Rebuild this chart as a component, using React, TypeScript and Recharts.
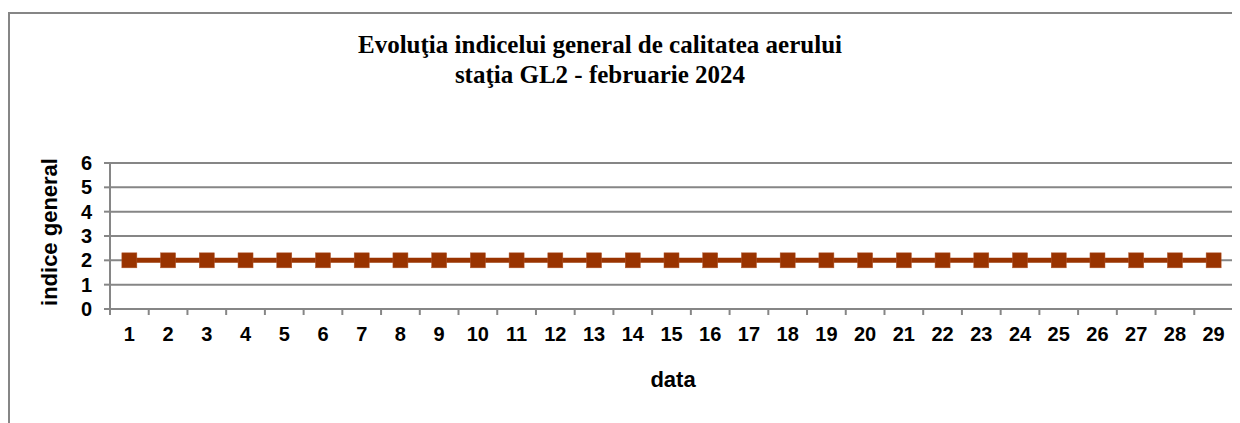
import React from "react";
import {
  LineChart,
  Line,
  XAxis,
  YAxis,
  CartesianGrid,
} from "recharts";

const days = [
  1, 2, 3, 4, 5, 6, 7, 8, 9, 10, 11, 12, 13, 14, 15, 16, 17, 18, 19, 20, 21,
  22, 23, 24, 25, 26, 27, 28, 29,
];
const indexValues = [
  2, 2, 2, 2, 2, 2, 2, 2, 2, 2, 2, 2, 2, 2, 2, 2, 2, 2, 2, 2, 2, 2, 2, 2, 2, 2,
  2, 2, 2,
];
const yTicks = [0, 1, 2, 3, 4, 5, 6];
const titleLines = [
  "Evoluţia indicelui general de calitatea aerului",
  "staţia GL2 - februarie 2024",
];
const xTitle = "data";
const yTitle = "indice general";

const data = days.map((d, i) => ({ day: d, value: indexValues[i] }));

const W = 1232;
const H = 415;
const MARGIN = { top: 155, right: 7, left: 0, bottom: 0 };
const Y_AXIS_W = 102;
const X_AXIS_H = 114;
const GRAY = "#868686";
const BROWN = "#993300";
const SANS = "Arial, 'Liberation Sans', sans-serif";
const SERIF = "'Times New Roman', 'Liberation Serif', serif";

const plotWidth = W - MARGIN.left - MARGIN.right - Y_AXIS_W;
const halfBand = plotWidth / days.length / 2;

const XTick = (props: any) => {
  const { x, y, payload, index } = props;
  return (
    <g>
      <line x1={x - halfBand} x2={x - halfBand} y1={y} y2={y + 6} stroke={GRAY} strokeWidth={2} />
      {index === days.length - 1 && (
        <line x1={x + halfBand} x2={x + halfBand} y1={y} y2={y + 6} stroke={GRAY} strokeWidth={2} />
      )}
      <text
        x={x}
        y={y + 32}
        textAnchor="middle"
        fontFamily={SANS}
        fontWeight="bold"
        fontSize={20}
        fill="#000"
      >
        {payload.value}
      </text>
    </g>
  );
};

const SquareDot = (props: any) => {
  const { cx, cy } = props;
  return (
    <rect
      x={cx - 7.5}
      y={cy - 7.5}
      width={15}
      height={15}
      fill={BROWN}
      stroke="#b0552a"
      strokeWidth={0.5}
    />
  );
};

export default function App() {
  return (
    <LineChart width={W} height={H} data={data} margin={MARGIN}>
      <line x1={1} y1={5} x2={1} y2={H} stroke={GRAY} strokeWidth={2} />
      <line x1={0} y1={5} x2={W} y2={5} stroke={GRAY} strokeWidth={2} />
      <text textAnchor="middle" fontFamily={SERIF} fontWeight="bold" fontSize={25} fill="#000">
        <tspan x={592} y={45}>{titleLines[0]}</tspan>
        <tspan x={592} y={75}>{titleLines[1]}</tspan>
      </text>
      <text
        x={665}
        y={379}
        textAnchor="middle"
        fontFamily={SANS}
        fontWeight="bold"
        fontSize={22}
        fill="#000"
      >
        {xTitle}
      </text>
      <text
        transform="translate(49,224) rotate(-90)"
        textAnchor="middle"
        fontFamily={SANS}
        fontWeight="bold"
        fontSize={22}
        fill="#000"
      >
        {yTitle}
      </text>
      <CartesianGrid vertical={false} stroke={GRAY} strokeWidth={2} />
      <XAxis
        dataKey="day"
        type="number"
        domain={[0.5, days.length + 0.5]}
        ticks={days}
        interval={0}
        height={X_AXIS_H}
        axisLine={{ stroke: GRAY, strokeWidth: 2 }}
        tickLine={false}
        tickSize={0}
        tickMargin={0}
        tick={<XTick />}
      />
      <YAxis
        domain={[0, 6]}
        ticks={yTicks}
        interval={0}
        width={Y_AXIS_W}
        axisLine={{ stroke: GRAY, strokeWidth: 2 }}
        tickLine={{ stroke: GRAY, strokeWidth: 2 }}
        tickSize={6}
        tickMargin={12}
        tick={{ fontFamily: SANS, fontWeight: "bold", fontSize: 20, fill: "#000" }}
      />
      <YAxis
        yAxisId="frame"
        orientation="right"
        domain={[0, 6]}
        width={0}
        tick={false}
        tickLine={false}
        axisLine={{ stroke: GRAY, strokeWidth: 2 }}
      />
      <Line
        dataKey="value"
        stroke={BROWN}
        strokeWidth={5}
        dot={<SquareDot />}
        activeDot={false}
        isAnimationActive={false}
      />
    </LineChart>
  );
}
